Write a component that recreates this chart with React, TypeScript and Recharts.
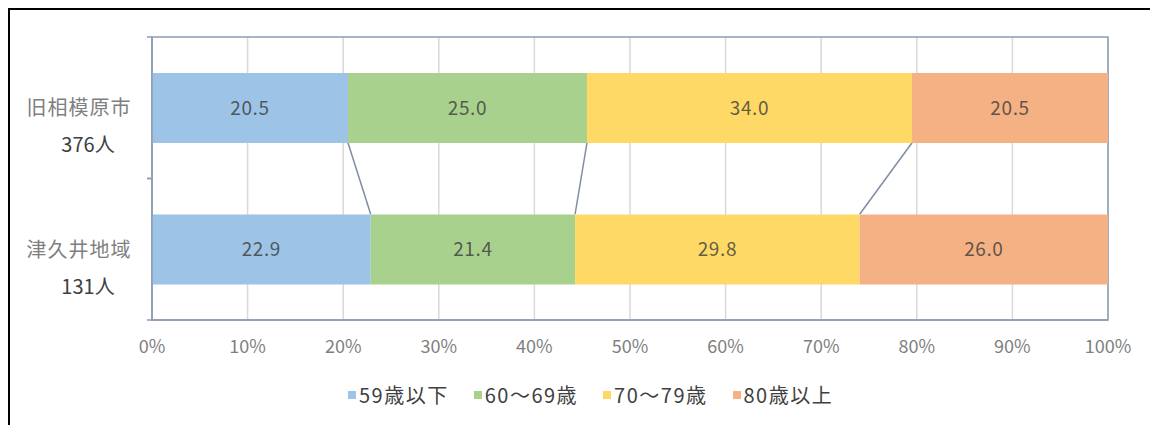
import React from 'react';
import * as R from 'recharts';
import { BarChart, Bar, XAxis, YAxis, CartesianGrid, LabelList } from 'recharts';

const categories = ['旧相模原市', '津久井地域'];
const counts = ['376人', '131人'];
const seriesNames = ['59歳以下', '60〜69歳', '70〜79歳', '80歳以上'];
const seriesColors = ['#9DC3E6', '#A9D18E', '#FFD966', '#F4B183'];
const s59 = [20.5, 22.9];
const s60 = [25.0, 21.4];
const s70 = [34.0, 29.8];
const s80 = [20.5, 26.0];
const seriesValues = [s59, s60, s70, s80];
const xTickPercents = [0, 10, 20, 30, 40, 50, 60, 70, 80, 90, 100];

const keys = ['s0', 's1', 's2', 's3'];
const data = categories.map((c, i) => {
  const row: any = { name: c };
  seriesValues.forEach((vals, k) => {
    row[keys[k]] = vals[i];
  });
  return row;
});

const AXIS = '#8C9DB5';
const GRID = '#D9D9D9';
const FONT = '"Noto Sans CJK JP", "Noto Sans", sans-serif';
const BAR_SIZE = 70;

function YTick(props: any) {
  const { x, y, payload } = props;
  const idx = categories.indexOf(payload.value);
  const half = typeof payload.offset === 'number' && payload.offset > 0 ? payload.offset : 70.75;
  return (
    <g>
      <line x1={x - 5} x2={x} y1={y - half} y2={y - half} stroke={AXIS} strokeWidth={1.5} />
      <line x1={x - 5} x2={x} y1={y + half} y2={y + half} stroke={AXIS} strokeWidth={1.5} />
      <text x={x - 73} y={y - 1} textAnchor="middle" dominantBaseline="central" fill="#7F7F7F" fontSize={20} letterSpacing={1} fontFamily={FONT}>
        {payload.value}
      </text>
      <text x={x - 64} y={y + 36} textAnchor="middle" dominantBaseline="central" fill="#404040" fontSize={20} fontFamily={FONT}>
        {counts[idx]}
      </text>
    </g>
  );
}

const usePA: any = (R as any).usePlotArea;

function Frame() {
  const pa = usePA ? usePA() : null;
  if (!pa) return null;
  const n = categories.length;
  const band = pa.height / n;
  const totals = categories.map((_, i) => seriesValues.reduce((s, v) => s + v[i], 0));
  const cum = (k: number, i: number) => {
    let s = 0;
    for (let j = 0; j <= k; j++) s += seriesValues[j][i];
    return s / totals[i];
  };
  const lines = [] as any[];
  for (let k = 0; k < seriesValues.length - 1; k++) {
    for (let i = 0; i < n - 1; i++) {
      const x1 = pa.x + cum(k, i) * pa.width;
      const y1 = pa.y + band * (i + 0.5) + BAR_SIZE / 2;
      const x2 = pa.x + cum(k, i + 1) * pa.width;
      const y2 = pa.y + band * (i + 1.5) - BAR_SIZE / 2;
      lines.push(<line key={`l${k}-${i}`} x1={x1} y1={y1} x2={x2} y2={y2} stroke="#7F8CA3" strokeWidth={1.5} />);
    }
  }
  return (
    <g>
      <rect x={pa.x} y={pa.y} width={pa.width} height={pa.height} fill="none" stroke={AXIS} strokeWidth={1.5} />
      {lines}
    </g>
  );
}

export default function App() {
  return (
    <div
      style={{
        position: 'relative',
        width: 1150,
        height: 417,
        borderTop: '2px solid #000',
        borderLeft: '2px solid #000',
        boxSizing: 'border-box',
        background: '#fff',
      }}
    >
      <BarChart
        width={1148}
        height={415}
        data={data}
        layout="vertical"
        stackOffset="expand"
        margin={{ top: 27, right: 50, bottom: 75, left: 0 }}
        barSize={BAR_SIZE}
      >
        <CartesianGrid horizontal={false} stroke={GRID} strokeWidth={1.5} />
        <XAxis
          type="number"
          domain={[0, 1]}
          ticks={xTickPercents.map((p) => p / 100)}
          tickFormatter={(v: number) => `${Math.round(v * 100)}%`}
          axisLine={{ stroke: AXIS, strokeWidth: 1.5 }}
          tickLine={false}
          tickSize={0}
          tickMargin={20}
          height={30}
          tick={{ fill: '#7F7F7F', fontSize: 18, fontFamily: FONT }}
          interval={0}
        />
        <YAxis
          type="category"
          dataKey="name"
          width={142}
          axisLine={{ stroke: AXIS, strokeWidth: 1.5 }}
          tickLine={false}
          tickSize={0}
          tickMargin={0}
          tick={<YTick />}
          interval={0}
        />
        {keys.map((k, i) => (
          <Bar key={k} dataKey={k} name={seriesNames[i]} stackId="a" fill={seriesColors[i]} isAnimationActive={false}>
            <LabelList
              dataKey={k}
              position="center"
              formatter={(v: any) => Number(v).toFixed(1)}
              style={{ fill: '#3A3A3A', fillOpacity: 0.8, fontSize: 19, letterSpacing: 0.6, fontFamily: FONT }}
            />
          </Bar>
        ))}
        <Frame />
      </BarChart>
      <div
        style={{
          position: 'absolute',
          top: 370,
          left: 338,
          display: 'flex',
          alignItems: 'center',
          fontFamily: FONT,
          fontSize: 20,
          color: '#404040',
          whiteSpace: 'nowrap',
        }}
      >
        {seriesNames.map((nm, i) => (
          <div key={nm} style={{ display: 'flex', alignItems: 'center', marginRight: i < seriesNames.length - 1 ? 25 : 0 }}>
            <span style={{ display: 'inline-block', width: 8, height: 8, background: seriesColors[i], marginRight: 3 }} />
            <span style={{ letterSpacing: 1.5 }}>{nm}</span>
          </div>
        ))}
      </div>
    </div>
  );
}
